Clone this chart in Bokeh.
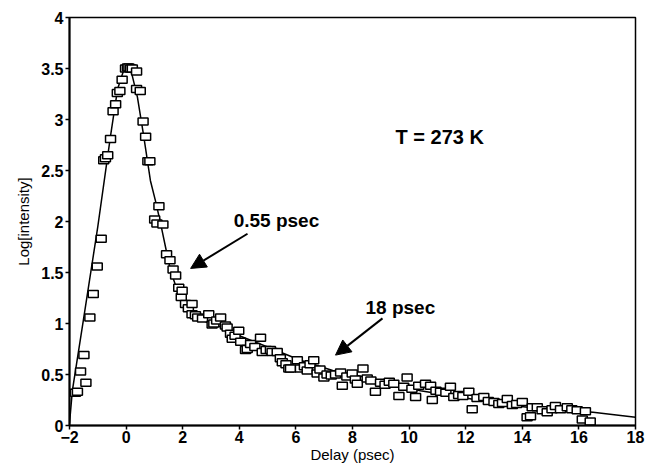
from bokeh.plotting import figure
from bokeh.models import Range1d, Label, Arrow, NormalHead, FixedTicker, ColumnDataSource
from bokeh.embed import file_html
from bokeh.resources import INLINE

# measured data (delay in psec, log intensity)
delay = [-1.79, -1.72, -1.61, -1.49, -1.42, -1.28, -1.16, -1.02, -0.88, -0.79, -0.73, -0.65,
         -0.55, -0.46, -0.37, -0.31, -0.22, -0.14, -0.02, 0.05, 0.10, 0.16, 0.22, 0.37, 0.37,
         0.50, 0.60, 0.69, 0.77, 0.84, 1.01, 1.09, 1.16, 1.30, 1.43, 1.55, 1.66, 1.75, 1.86,
         1.95, 1.98, 2.10, 2.20, 2.33, 2.33, 2.45, 2.53, 2.70, 2.92, 3.04, 3.10, 3.20, 3.34,
         3.51, 3.57, 3.69, 3.75, 3.85, 3.98, 4.05, 4.22, 4.28, 4.40, 4.55, 4.75, 4.81, 4.95,
         5.10, 5.16, 5.34, 5.45, 5.52, 5.65, 5.75, 5.81, 6.05, 6.16, 6.30, 6.40, 6.50, 6.63,
         6.75, 6.85, 6.99, 7.10, 7.25, 7.40, 7.58, 7.64, 7.80, 7.99, 8.10, 8.17, 8.37, 8.52,
         8.65, 8.81, 8.99, 9.15, 9.30, 9.46, 9.64, 9.81, 9.93, 10.10, 10.23, 10.34, 10.58,
         10.76, 10.82, 10.95, 11.11, 11.30, 11.46, 11.58, 11.75, 11.90, 12.11, 12.23, 12.40,
         12.64, 12.80, 13.00, 13.17, 13.30, 13.47, 13.65, 13.80, 14.00, 14.17, 14.29, 14.35,
         14.53, 14.70, 14.88, 15.05, 15.17, 15.35, 15.59, 15.75, 15.94, 16.12, 16.23, 16.40]
log_intensity = [0.32, 0.33, 0.53, 0.69, 0.42, 1.06, 1.29, 1.56, 1.83, 2.60, 2.62, 2.65,
                 2.81, 3.08, 3.15, 3.26, 3.28, 3.39, 3.50, 3.51, 3.51, 3.50, 3.50, 3.47, 3.30,
                 3.28, 2.98, 2.83, 2.59, 2.59, 2.02, 1.98, 2.15, 1.97, 1.68, 1.62, 1.53, 1.47, 1.35,
                 1.26, 1.32, 1.19, 1.15, 1.19, 1.09, 1.08, 1.06, 1.05, 1.09, 0.99, 1.00, 1.03, 1.06,
                 0.98, 0.96, 0.90, 0.85, 0.88, 0.93, 0.82, 0.74, 0.75, 0.80, 0.77, 0.86, 0.72, 0.74,
                 0.74, 0.72, 0.72, 0.66, 0.62, 0.60, 0.56, 0.56, 0.64, 0.56, 0.58, 0.54, 0.60, 0.64,
                 0.51, 0.55, 0.47, 0.50, 0.49, 0.50, 0.52, 0.39, 0.48, 0.51, 0.45, 0.41, 0.56, 0.46,
                 0.44, 0.33, 0.42, 0.40, 0.43, 0.41, 0.29, 0.38, 0.47, 0.36, 0.28, 0.39, 0.41,
                 0.39, 0.25, 0.34, 0.33, 0.32, 0.38, 0.28, 0.30, 0.29, 0.33, 0.16, 0.27,
                 0.28, 0.24, 0.23, 0.21, 0.22, 0.26, 0.20, 0.21, 0.23, 0.08, 0.09, 0.18,
                 0.18, 0.15, 0.13, 0.16, 0.19, 0.16, 0.18, 0.16, 0.15, 0.06, 0.14, 0.04]

# fitted curve
fit_delay = [-2.0, -1.9, -1.5, -1.0, -0.55, -0.3, -0.1, 0.05, 0.2, 0.4, 0.61, 0.86, 1.04,
             1.22, 1.4, 1.57, 1.8, 2.03, 2.38, 2.8, 3.3, 4.0, 5.0, 6.16, 7.3, 8.5, 10.4,
             12.0, 13.2, 14.5, 16.5, 18.0]
fit_log = [0.02, 0.34, 1.05, 1.95, 2.84, 3.3, 3.47, 3.52, 3.45, 3.22, 2.86, 2.40, 2.2,
           1.98, 1.74, 1.52, 1.33, 1.2, 1.08, 1.02, 0.97, 0.88, 0.77, 0.64, 0.54, 0.47, 0.34,
           0.27, 0.21, 0.17, 0.13, 0.08]

x_ticks = [-2, 0, 2, 4, 6, 8, 10, 12, 14, 16, 18]
y_ticks = [0, 0.5, 1, 1.5, 2, 2.5, 3, 3.5, 4]
y_tick_labels = {0: "0", 0.5: "0.5", 1: "1", 1.5: "1.5", 2: "2", 2.5: "2.5", 3: "3", 3.5: "3.5", 4: "4"}

FONT = "Liberation Sans"

p = figure(width=645, height=468, output_backend="svg", toolbar_location=None,
           x_range=Range1d(-2, 18), y_range=Range1d(0, 4),
           min_border_left=69, min_border_right=10, min_border_top=17, min_border_bottom=43)
p.grid.visible = False
p.background_fill_color = "white"
p.border_fill_color = "white"
p.outline_line_color = "black"
p.outline_line_width = 1.5

p.xaxis.ticker = FixedTicker(ticks=x_ticks)
p.yaxis.ticker = FixedTicker(ticks=y_ticks)
p.yaxis.major_label_overrides = y_tick_labels
for ax in (p.xaxis[0], p.yaxis[0]):
    ax.axis_line_width = 2
    ax.axis_line_color = "black"
    ax.major_tick_in = 0
    ax.major_tick_out = 4
    ax.major_tick_line_width = 1.5
    ax.minor_tick_line_color = None
    ax.major_label_text_font = FONT
    ax.major_label_text_font_style = "bold"
    ax.major_label_text_font_size = "16px"
    ax.major_label_text_color = "black"
    ax.axis_label_text_font = FONT
    ax.axis_label_text_font_style = "normal"
    ax.axis_label_text_font_size = "15px"
    ax.axis_label_text_color = "black"
p.xaxis.axis_label = "Delay (psec)"
p.yaxis.axis_label = "Log[intensity]"
p.xaxis.major_label_standoff = 1
p.yaxis.major_label_standoff = 2
p.xaxis.axis_label_standoff = 0
p.yaxis.axis_label_standoff = 6

p.line(fit_delay, fit_log, line_color="black", line_width=1.5)

src = ColumnDataSource(dict(x=delay, y=log_intensity))
p.rect("x", "y", width=10, height=7, width_units="screen", height_units="screen",
       source=src, fill_color="white", line_color="black", line_width=1.5)

for txt, lx, ly, fs in [("0.55 psec", 3.8, 2.01, "19px"), ("18 psec", 8.46, 1.16, "19px"),
                        ("T = 273 K", 9.52, 2.83, "20px")]:
    p.add_layout(Label(x=lx, y=ly, text=txt, text_font=FONT, text_font_style="bold",
                       text_font_size=fs, text_baseline="middle", text_color="black"))

for x0, y0, x1, y1 in [(4.29, 1.88, 2.28, 1.54), (9.06, 1.05, 7.40, 0.69)]:
    p.add_layout(Arrow(end=NormalHead(size=15, fill_color="black", line_color="black"),
                       x_start=x0, y_start=y0, x_end=x1, y_end=y1,
                       line_color="black", line_width=2))

open("out.html", "w").write(file_html(p, INLINE))
